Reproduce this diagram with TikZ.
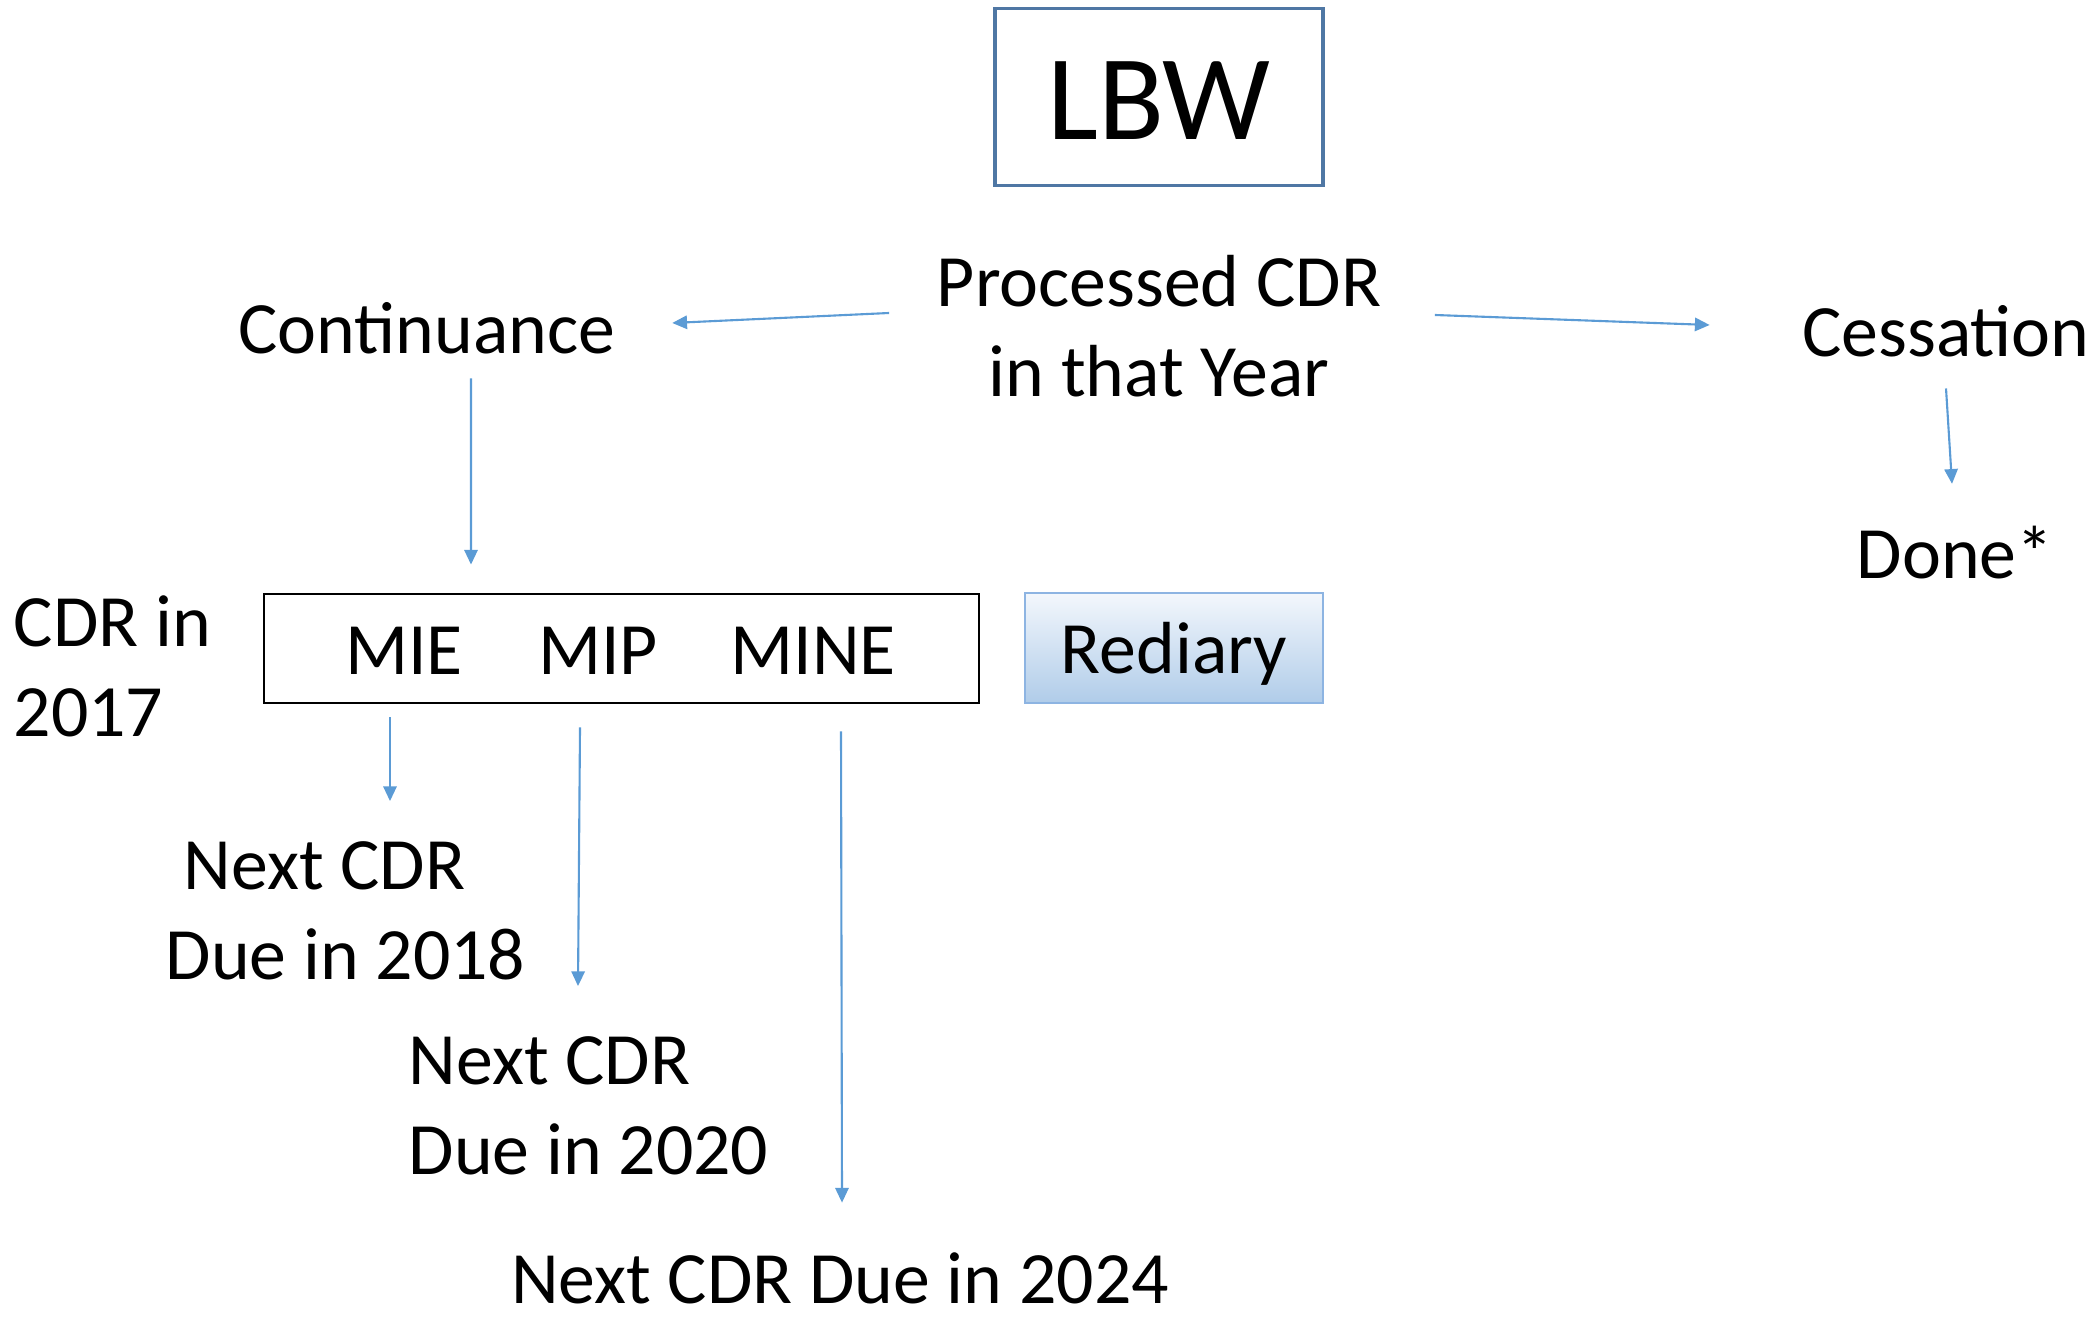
\documentclass[tikz,border=0pt]{standalone}
\usepackage{fontspec}
\setmainfont{Carlito}
\usepackage{tikz}
\usetikzlibrary{arrows.meta,calc}

\definecolor{arrowblue}{RGB}{91,155,213}
\definecolor{lbwedge}{RGB}{79,119,164}
\definecolor{redtop}{RGB}{243,247,252}
\definecolor{redbot}{RGB}{176,204,233}
\definecolor{rededge}{RGB}{141,180,226}

\tikzset{
  lbl/.style={inner sep=0pt,font=\fontsize{21}{25.6}\selectfont},
  arr/.style={arrowblue,line width=0.6pt,-{Triangle[length=4.2pt,width=3.8pt]}}
}

\begin{document}
\begin{tikzpicture}
      \useasboundingbox (0,0) rectangle (20.99,13.19);
      \node[draw=lbwedge,line width=1pt,minimum width=3.28cm,minimum height=1.77cm,text height=0.86cm,text depth=0pt,font=\fontsize{34.5}{40}\selectfont] (lbw) at (11.59,12.22) {LBW};
      \node[lbl,align=center] (proc) at (11.59,9.93) {Processed CDR\\in that Year};
      \node[lbl] (cont) at (4.27,9.91) {Continuance};
      \node[lbl] (cess) at (19.46,9.88) {Cessation};
      \node[lbl] (done) at (19.55,7.66) {Done*};
      \node[lbl,anchor=west,align=left] (cdr) at (0.13,6.53) {CDR in\\2017};
      \node[draw,line width=0.8pt,minimum width=7.15cm,minimum height=1.09cm] (tiers) at (6.215,6.705) {};
      \node[lbl] (mie) at (4.04,6.68) {MIE};
      \node[lbl] (mip) at (5.98,6.68) {MIP};
      \node[lbl] (mine) at (8.13,6.68) {MINE};
      \node[draw=rededge,line width=0.8pt,top color=redtop,bottom color=redbot,minimum width=2.98cm,minimum height=1.10cm,text depth=0pt,font=\fontsize{21}{25.6}\selectfont] (rediary) at (11.74,6.71) {Rediary};
      \node[lbl,anchor=west,align=left] (n18) at (1.65,4.08) {\hspace*{0.18cm}Next CDR\\Due in 2018};
      \node[lbl,anchor=west,align=left] (n20) at (4.08,2.13) {Next CDR\\Due in 2020};
      \node[lbl] (n24) at (8.40,0.41) {Next CDR Due in 2024};
      % arrows
      \draw[arr] ($(proc.west)+(-0.47,0.13)$) -- ($(cont.east)+(0.56,0.05)$);
      \draw[arr] ($(proc.east)+(0.53,0.11)$) -- ($(cess.west)+(-0.92,0.06)$);
      \draw[arr] ($(cont.south)+(0.44,-0.24)$) -- ($(tiers.north)+(-1.505,0.28)$);
      \draw[arr] ($(cess.south)+(0,-0.31)$) -- ($(done.north)+(-0.03,0.42)$);
      \draw[arr] ($(tiers.south -| mie)+(-0.14,-0.13)$) -- ($(n18.north -| mie)+(-0.14,0.40)$);
      \draw[arr] ($(tiers.south -| mip)+(-0.18,-0.23)$) -- ($(n20.north -| mip)+(-0.20,0.50)$);
      \draw[arr] ($(tiers.south -| mine)+(0.28,-0.27)$) -- ($(n24.north -| mine)+(0.29,0.49)$);
\end{tikzpicture}
\end{document}
